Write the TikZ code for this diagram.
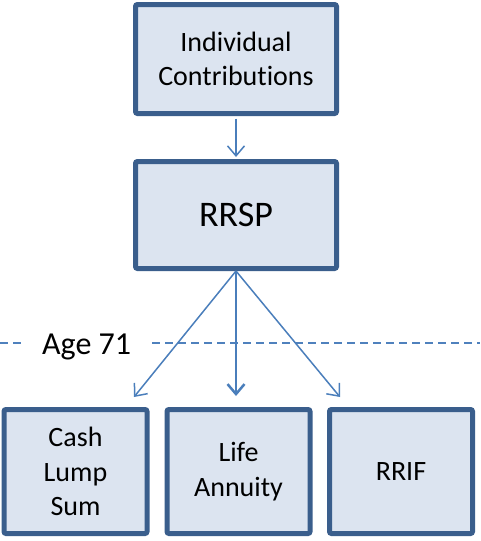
\documentclass[tikz,border=0pt]{standalone}
\usepackage{fontspec}
\setmainfont[Ligatures=NoCommon]{Carlito}
\usetikzlibrary{arrows.meta}
\definecolor{boxline}{RGB}{58,94,140}
\definecolor{boxfill}{RGB}{220,228,240}
\definecolor{linkblue}{RGB}{74,126,187}
\definecolor{dashblue}{RGB}{79,129,189}
\begin{document}
\begin{tikzpicture}[x=1pt,y=-1pt,
	every node/.style={font=\fontsize{28}{34.5}\selectfont,align=center,inner sep=0},
	planbox/.style={draw=boxline,fill=boxfill,line width=5pt,rounded corners=2pt,
		minimum width=#1},
	planbox/.default=201pt,
	link/.style={draw=linkblue,line width=1.5pt,-{Straight Barb[length=10pt,width=17pt]}},
	ageline/.style={draw=dashblue,line width=1.5pt,dash pattern=on 8pt off 5pt}]
\useasboundingbox (0,0) rectangle (480,541);
\node[planbox,minimum height=109pt] (contrib) at (236,59) {Individual\\Contributions};
\node[planbox,minimum height=107pt,font=\fontsize{36}{40}\selectfont] (rrsp) at (236,215) {RRSP};
\node[planbox=143pt,minimum height=124pt] (cash) at (75.5,471.5) {Cash\\Lump\\Sum};
\node[planbox=143pt,minimum height=124pt] (life) at (238.5,471.5) {Life\\Annuity};
\node[planbox=143pt,minimum height=124pt] (rrif) at (401,471.5) {RRIF};
\node[anchor=base west,font=\fontsize{32}{38}\selectfont] (age) at (42,354) {Age 71};
\coordinate (edgeleft) at (0,343);
\coordinate (edgeright) at (480,343);
\coordinate (cashtip) at (134,397);
\coordinate (lifetip) at (236,396);
\coordinate (riftip) at (340,397);
\draw[ageline] (edgeleft) -- ++(22,0);
\draw[ageline] (152,343) -- (edgeright);
\draw[link,shorten <=2.5pt,shorten >=2pt] (contrib.south) -- (rrsp.north);
\draw[link] (rrsp.south) -- (cashtip);
\draw[link,line width=2.5pt] (rrsp.south) -- (lifetip);
\draw[link] (rrsp.south) -- (riftip);
\end{tikzpicture}
\end{document}
